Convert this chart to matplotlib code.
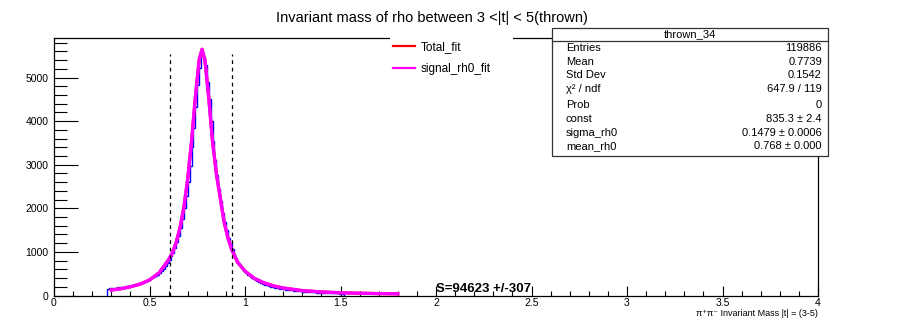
import numpy as np
import matplotlib
matplotlib.use('Agg')
import matplotlib.pyplot as plt
from matplotlib.patches import Rectangle
from matplotlib.lines import Line2D

plt.rcParams['font.family'] = ['Liberation Sans', 'DejaVu Sans']

# histogram: 0.01 wide bins starting at 0.28
hist_start = 0.28
bin_w = 0.01
counts = [160, 170, 175, 172, 180, 185, 190, 188, 198, 205,
          212, 220, 228, 236, 250, 258, 268, 282, 296, 310,
          330, 345, 372, 395, 418, 450, 478, 520, 565, 612,
          668, 735, 812, 900, 985, 1100, 1230, 1370, 1550, 1760,
          2010, 2280, 2610, 2980, 3400, 3850, 4330, 4820, 5220, 5560,
          5480, 5300, 4900, 4520, 4010, 3540, 3120, 2760, 2440, 2160,
          1900, 1690, 1500, 1330, 1190, 1060, 950, 850, 765, 690,
          625, 570, 520, 478, 440, 405, 375, 348, 322, 300,
          280, 262, 246, 230, 216, 204, 192, 182, 172, 163,
          155, 147, 140, 133, 127, 121, 116, 110, 106, 101,
          97, 93, 89, 86, 82, 79, 76, 73, 70, 68,
          65, 63, 61, 59, 57, 55, 53, 51, 50, 48,
          47, 45, 44, 42]

# fit curve
fit_x = [0.30, 0.35, 0.40, 0.45, 0.50, 0.55, 0.60, 0.62, 0.64, 0.66,
         0.68, 0.70, 0.72, 0.74, 0.76, 0.775, 0.79, 0.81, 0.83, 0.85,
         0.87, 0.89, 0.91, 0.93, 0.96, 1.00, 1.05, 1.10, 1.15, 1.20,
         1.30, 1.40, 1.50, 1.60, 1.70, 1.80]
fit_y = [125, 155, 200, 260, 355, 520, 820, 979, 1223, 1560,
         2025, 2671, 3531, 4545, 5407, 5650, 5407, 4545, 3531, 2800,
         2250, 1700, 1330, 1060, 770, 560, 390, 290, 220, 172,
         112, 82, 63, 52, 44, 38]

cuts = [0.607, 0.93]
cut_top = 5550

stats_labels = ['Entries', 'Mean', 'Std Dev', 'χ² / ndf', 'Prob',
                'const', 'sigma_rh0', 'mean_rh0']
stats_values = ['119886', '0.7739', '0.1542', '647.9 / 119', '0',
                '835.3 ± 2.4', '0.1479 ± 0.0006', '0.768 ± 0.000']

W, H = 903, 321
fig = plt.figure(figsize=(W / 100, H / 100), dpi=100)
ax = fig.add_axes([54 / W, 1 - 295.5 / H, (818 - 54) / W, (295.5 - 37.5) / H])

edges = hist_start + bin_w * np.arange(len(counts) + 1)
ax.stairs(counts, edges, color='blue', lw=1.0, zorder=2)
ax.plot(fit_x, fit_y, color='red', lw=2.2, zorder=3)
ax.plot(fit_x, fit_y, color='magenta', lw=2.4, zorder=4)
ax.vlines(cuts, 0, cut_top, colors='black', linestyles=(0, (3, 3)), lw=0.9, zorder=5)

ax.text(2.0, 15, 'S=94623 +/-307', fontsize=9.5, fontweight='bold',
        ha='left', va='bottom', zorder=6)

ax.set_xlim(0, 4)
ax.set_ylim(0, 5920)
ax.set_xticks(np.arange(0, 4.01, 0.5))
ax.set_xticklabels(['0', '0.5', '1', '1.5', '2', '2.5', '3', '3.5', '4'])
ax.set_xticks(np.arange(0, 4.01, 0.1), minor=True)
ax.set_yticks(np.arange(0, 5001, 1000))
ax.set_yticks(np.arange(0, 5901, 200), minor=True)
ax.tick_params(axis='both', which='both', direction='in', labelsize=7.5,
               top=False, right=False, width=0.8)
ax.tick_params(axis='x', which='major', length=7, pad=2)
ax.tick_params(axis='x', which='minor', length=3.5)
ax.tick_params(axis='y', which='major', length=17, pad=4)
ax.tick_params(axis='y', which='minor', length=9)
for s in ax.spines.values():
    s.set_linewidth(0.9)

fig.text(432 / W, 1 - 18 / H, 'Invariant mass of rho between 3 <|t| < 5(thrown)',
         ha='center', va='center', fontsize=10.5)
fig.text(818 / W, 1 - 313.5 / H, 'π⁺π⁻ Invariant Mass |t| = (3-5)',
         ha='right', va='center', fontsize=6.5)

# legend area: white box over the frame line
fig.patches.append(Rectangle((390 / W, 1 - 92 / H), (513 - 390) / W, (92 - 30) / H,
                             transform=fig.transFigure, facecolor='white',
                             edgecolor='none', zorder=1))
handles = [Line2D([], [], color='red', lw=1.6), Line2D([], [], color='magenta', lw=1.6)]
fig.legend(handles, ['Total_fit', 'signal_rh0_fit'], loc='upper left',
           bbox_to_anchor=(393 / W, 1 - 41 / H), frameon=False, fontsize=8.5,
           handlelength=1.9, handletextpad=0.45, labelspacing=0.85,
           borderpad=0, borderaxespad=0)

# stats box
fig.patches.append(Rectangle((552 / W, 1 - 155.5 / H), (828 - 552) / W, (155.5 - 27.5) / H,
                             transform=fig.transFigure, facecolor='white',
                             edgecolor='#333333', lw=0.9, zorder=1))
fig.lines.append(Line2D([552 / W, 828 / W], [1 - 40.5 / H, 1 - 40.5 / H],
                        transform=fig.transFigure, color='#333333', lw=0.9, zorder=2))
fig.text(690 / W, 1 - 34 / H, 'thrown_34', ha='center', va='center', fontsize=8, zorder=3)
row_y = [48.3, 62, 75.3, 88.5, 104.5, 119, 133, 146.3]
for lab, val, yy in zip(stats_labels, stats_values, row_y):
    fig.text(566 / W, 1 - yy / H, lab, ha='left', va='center', fontsize=8, zorder=3)
    fig.text(822 / W, 1 - yy / H, val, ha='right', va='center', fontsize=8, zorder=3)

fig.savefig('out.png', dpi=100)
